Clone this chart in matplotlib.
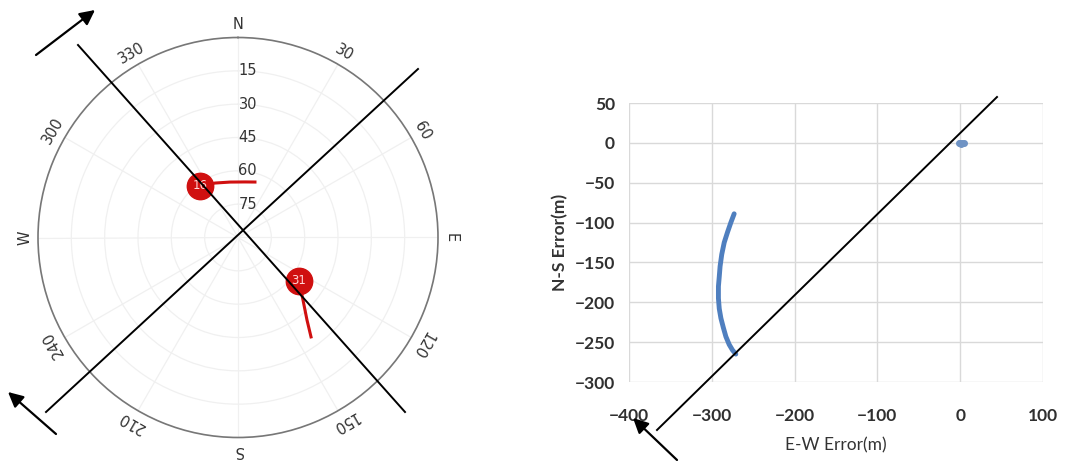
import numpy as np
import matplotlib
matplotlib.use("Agg")
import matplotlib.pyplot as plt

# --- sky plot data (azimuth deg, elevation deg) ---
sat_ids = ["16", "31"]
sat16_az = [323.6, 337.1, 351.8, 7.2, 17.0]
sat16_el = [61.2, 63.4, 64.8, 64.8, 63.9]
sat31_az = [125.5, 133.9, 140.1, 143.7]
sat31_el = [56.3, 49.4, 41.6, 34.5]

compass_angles = [0, 30, 60, 90, 120, 150, 180, 210, 240, 270, 300, 330]
compass_labels = ["N", "30", "60", "E", "120", "150", "S", "210", "240", "W", "300", "330"]
elev_rings = [15, 30, 45, 60, 75]

# --- position error data (m) ---
ew_arc = [-273, -277, -281, -285, -288, -290, -291, -292, -292, -291, -289, -286, -283, -279, -275, -271]
ns_arc = [-89, -100, -112, -125, -140, -155, -168, -180, -195, -208, -220, -232, -243, -253, -260, -265]
ew_dot = [-2, 0, 2, 4, 1]
ns_dot = [0, 0, 0, 0, -1]

x_ticks = [-400, -300, -200, -100, 0, 100]
y_ticks = [50, 0, -50, -100, -150, -200, -250, -300]

# hand-drawn annotation strokes, figure pixel coords (x, y from top)
cross_lines = [((78, 45), (405, 412)), ((46, 412), (418, 69)), ((657, 430), (997, 97))]
arrows = [((36, 55), (95, 10)), ((56, 434), (8, 392)), ((677, 460), (633, 418))]

W, H = 1088, 461
fig = plt.figure(figsize=(W / 100, H / 100), dpi=100)

# ---------------- sky plot ----------------
ax = fig.add_axes([38 / W, (H - 437.5) / H, 400 / W, 400 / H], projection="polar")
ax.set_theta_zero_location("N")
ax.set_theta_direction(-1)
ax.set_ylim(90, 0)
ax.set_yticks([0] + elev_rings)
ax.set_yticklabels([])
ax.set_xticks(np.radians(compass_angles))
ax.set_xticklabels([])
ax.grid(True, color="#f0f0f0", lw=0.9)
ax.spines["polar"].set_color("#777777")
ax.spines["polar"].set_linewidth(1.2)
ax.tick_params(length=0)

for ang, lab in zip(compass_angles, compass_labels):
    ax.text(np.radians(ang), -6, lab, rotation=-ang, rotation_mode="anchor",
            ha="center", va="center", fontsize=10.5, color="#333333")
for el in elev_rings:
    ax.annotate(str(el), xy=(0, el), xytext=(7, 0), textcoords="offset points",
                ha="center", va="center", fontsize=10.5, color="#333333")

red = "#d01010"
for sid, az, el in [(sat_ids[0], sat16_az, sat16_el), (sat_ids[1], sat31_az, sat31_el)]:
    ax.plot(np.radians(az), el, color=red, lw=2.2, zorder=3)
    ax.plot(np.radians(az[0]), el[0], "o", ms=19, color=red, zorder=4)
    ax.text(np.radians(az[0]), el[0], sid, color="#ffd6d6", fontsize=8.5,
            ha="center", va="center", zorder=5)

# ---------------- error scatter ----------------
ax2 = fig.add_axes([629 / W, (H - 382) / H, 414 / W, 279 / H])
ax2.plot(ew_arc, ns_arc, "-", color="#4f7fbf", lw=3.5, solid_capstyle="round")
ax2.plot(ew_dot, ns_dot, "o", color="#6f93c4", ms=4)
ax2.set_xlim(-400, 100)
ax2.set_ylim(-300, 50)
ax2.set_xticks(x_ticks)
ax2.set_yticks(y_ticks)
ax2.grid(True, color="#d9d9d9", lw=1)
for s in ax2.spines.values():
    s.set_visible(False)
ax2.tick_params(length=0, labelsize=12.5, colors="#303030")
ax2.tick_params(axis="y", pad=10)
ax2.tick_params(axis="x", pad=19)
for t in ax2.get_xticklabels() + ax2.get_yticklabels():
    t.set_fontweight("bold")
    t.set_family("Lato")
ax2.set_xlabel("E-W Error(m)", fontsize=12.5, color="#333333", family="Lato", labelpad=9)
ax2.set_ylabel("N-S Error(m)", fontsize=12.5, color="#333333", family="Lato",
               fontweight="bold", labelpad=5)

# ---------------- overlay strokes ----------------
ov = fig.add_axes([0, 0, 1, 1], facecolor="none")
ov.set_xlim(0, W)
ov.set_ylim(H, 0)
ov.axis("off")
for (x0, y0), (x1, y1) in cross_lines:
    ov.plot([x0, x1], [y0, y1], color="black", lw=1.4)
for (x0, y0), (x1, y1) in arrows:
    ov.annotate("", xy=(x1, y1), xytext=(x0, y0),
                arrowprops=dict(arrowstyle="-|>,head_length=0.9,head_width=0.45",
                                color="black", lw=1.6, shrinkA=0, shrinkB=0))

fig.savefig("out.png", dpi=100)
